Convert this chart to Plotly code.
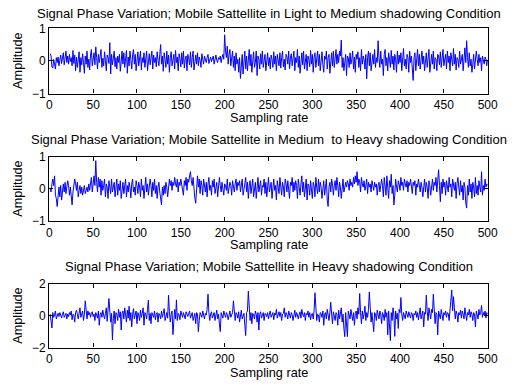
import plotly.graph_objects as go

titles = [
    "Signal Phase Variation; Mobile Sattellite in Light to Medium shadowing Condition",
    "Signal Phase Variation; Mobile Sattellite in Medium\u00a0 to Heavy shadowing Condition",
    "Signal Phase Variation; Mobile Sattellite in Heavy shadowing Condition",
]
x_label = "Sampling rate"
y_label = "Amplitude"
x_ticks = [0, 50, 100, 150, 200, 250, 300, 350, 400, 450, 500]
y_ticks = [[-1, 0, 1], [-1, 0, 1], [-2, 0, 2]]
y_ranges = [[-1, 1], [-1, 1], [-2, 2]]

light_medium = [
    0.22,0.15,-0.18,-0.22,0.05,-0.1,-0.25,0.1,-0.05,0.12,-0.15,0.02,0.18,-0.08,0.05,0.25,-0.12,0.08,0.3,-0.05,0.15,-0.1,0.2,-0.02,0.1,
    -0.15,0.32,-0.08,0.18,-0.3,0.12,-0.2,0.05,0.28,-0.35,0.1,-0.12,0.22,-0.05,-0.38,0.15,-0.1,0.3,-0.2,0.05,-0.28,0.18,0.35,-0.15,0.08,
    0.25,-0.12,0.43,0.1,-0.25,0.2,-0.05,0.15,0.35,-0.2,0.08,-0.15,0.28,0.02,-0.3,0.18,0.1,-0.08,0.56,-0.4,0.2,-0.12,0.05,0.3,-0.18,
    0.1,-0.25,0.15,-0.05,0.2,-0.32,0.08,0.3,-0.1,0.25,-0.2,0.05,0.32,-0.38,0.12,-0.15,0.3,0.05,-0.25,0.18,0.35,-0.1,0.2,-0.3,0.15,
    0.28,-0.15,0.05,0.3,-0.28,0.1,-0.05,0.25,-0.2,0.15,0.3,-0.3,0.08,0.22,-0.12,0.05,0.3,-0.25,0.18,-0.05,0.1,-0.18,0.28,0.02,-0.15,
    0.2,0.5,-0.1,0.15,-0.32,0.25,0.05,-0.2,0.3,-0.1,0.18,-0.35,0.1,0.28,-0.15,0.05,0.2,-0.25,0.32,-0.05,0.12,-0.3,0.22,0.08,-0.18,
    0.25,-0.1,0.3,-0.22,0.05,0.15,-0.3,0.2,0.08,-0.12,0.28,-0.2,0.1,0.3,-0.28,0.05,0.18,-0.1,0.25,-0.15,0.12,0.02,-0.2,0.22,0.05,
    -0.1,0.15,0.05,-0.05,0.1,0.2,-0.08,0.05,0.12,-0.02,0.08,0.15,-0.1,0.05,0.18,0.02,-0.05,0.1,0.05,0.15,-0.05,0.1,0.2,0.05,0.8,
    0.3,0.1,0.45,-0.1,0.2,0.35,-0.15,0.1,0.3,-0.2,0.15,-0.3,0.25,-0.1,0.05,-0.35,0.1,-0.54,-0.2,0.2,-0.4,0.1,0.3,-0.25,0.15,
    -0.3,0.05,0.35,-0.15,0.2,-0.35,0.1,0.28,-0.2,-0.05,0.3,-0.45,0.15,0.05,-0.25,0.22,-0.1,0.3,-0.2,0.1,0.2,-0.3,0.05,0.25,-0.15,
    0.1,-0.25,0.18,0.05,-0.2,0.28,-0.1,0.15,-0.3,0.2,0.05,-0.15,0.25,-0.22,0.1,0.3,-0.18,0.05,-0.28,0.2,0.12,-0.1,0.3,-0.25,0.08,
    0.22,-0.15,0.05,0.3,-0.3,0.1,-0.05,0.35,-0.2,0.15,-0.38,0.05,0.25,-0.12,0.3,-0.25,0.1,0.2,-0.3,0.15,0.05,-0.18,0.32,-0.1,0.2,
    -0.35,0.1,0.25,-0.2,0.05,0.3,-0.15,0.2,-0.3,0.12,0.28,-0.1,-0.35,0.15,0.05,0.3,-0.25,0.1,0.2,-0.38,0.05,0.25,-0.15,0.3,-0.2,
    0.1,0.35,-0.1,0.2,-0.05,0.3,0.15,0.64,-0.2,0.1,-0.3,0.05,0.2,-0.45,0.15,0.1,-0.2,0.25,-0.1,0.05,0.3,-0.25,0.12,-0.35,0.2,
    0.05,0.28,-0.2,0.1,-0.3,0.35,-0.1,0.15,0.05,-0.25,0.2,-0.55,0.1,0.3,-0.15,0.25,-0.3,0.05,0.2,-0.1,0.35,-0.2,0.1,-0.05,0.62,
    0.1,-0.2,0.3,-0.1,0.05,-0.45,0.2,0.35,-0.15,0.1,-0.3,0.25,0.05,-0.2,0.32,-0.1,0.15,-0.28,0.2,0.05,-0.35,0.3,-0.1,0.18,-0.05,
    0.25,-0.3,0.1,0.38,-0.15,0.05,-0.25,0.2,0.1,-0.35,0.3,-0.05,0.15,-0.2,-0.6,0.1,0.25,-0.3,0.05,0.35,-0.15,0.2,-0.25,0.1,0.3,
    -0.1,0.15,-0.3,0.05,0.25,-0.2,0.1,0.35,-0.35,0.05,0.2,-0.1,0.3,-0.25,0.1,0.05,-0.3,0.2,0.15,-0.12,0.28,-0.2,0.05,0.35,-0.15,
    0.1,0.2,-0.25,0.3,-0.05,0.15,-0.3,0.25,0.05,-0.15,0.38,-0.1,0.2,-0.28,0.1,0.05,-0.2,0.3,-0.1,0.15,0.2,-0.3,0.1,0.4,-0.05,
    0.62,0.1,-0.2,0.25,-0.15,0.05,-0.35,-0.1,0.2,-0.25,0.1,0.3,0.05,-0.15,0.2,-0.05,0.1,-0.3,0.15,0.05,-0.1,0.12,0.05,-0.15,0.02,
]

medium_heavy = [
    0.0,-0.1,0.15,0.3,0.1,0.4,-0.2,-0.3,-0.55,-0.1,0.05,-0.25,0.1,-0.35,0.05,0.15,-0.1,0.2,-0.15,0.05,0.25,0.1,-0.2,0.05,-0.3,
    -0.5,-0.1,0.1,0.3,0.15,-0.05,0.2,-0.25,-0.05,0.1,-0.15,0.05,-0.2,-0.05,0.1,-0.15,-0.05,0.05,-0.1,0.15,-0.05,0.2,0.35,-0.1,0.25,
    0.4,0.1,0.87,0.2,-0.1,0.35,0.05,0.3,-0.2,0.25,-0.05,0.1,0.3,-0.25,0.15,0.05,-0.3,0.25,0.1,-0.15,0.3,-0.1,0.05,0.2,-0.25,
    0.1,0.3,-0.2,0.15,-0.05,0.25,-0.3,0.1,0.2,-0.15,0.05,0.3,-0.25,0.1,-0.1,0.2,0.05,-0.28,0.15,0.3,-0.1,0.05,-0.2,0.25,0.1,
    -0.15,0.2,0.05,-0.25,0.3,-0.05,0.1,-0.3,0.2,0.35,-0.1,0.15,-0.2,0.05,0.3,0.1,-0.25,0.2,-0.05,0.3,-0.15,0.1,-0.3,0.05,0.2,
    -0.1,-0.3,-0.5,0.05,-0.2,0.1,-0.15,0.2,0.05,-0.25,0.15,0.3,0.1,0.25,-0.05,0.2,0.1,0.35,0.15,0.05,0.3,-0.1,0.2,0.1,0.3,
    0.15,0.05,-0.2,0.25,0.1,0.35,-0.05,0.3,0.2,0.4,0.53,0.25,0.1,0.35,-0.1,-0.3,-0.45,0.2,0.4,0.05,0.3,-0.15,0.25,0.1,-0.2,
    0.3,0.05,-0.1,0.2,-0.25,0.15,0.35,-0.05,0.1,-0.2,0.25,0.05,0.3,-0.15,0.1,0.2,-0.25,0.05,0.35,0.1,-0.1,0.2,0.05,-0.2,0.15,
    0.1,-0.05,0.3,-0.15,0.05,0.2,0.1,-0.2,0.25,0.05,-0.1,0.15,0.3,-0.05,0.2,0.1,0.25,-0.1,0.05,0.3,-0.2,0.1,0.15,0.35,-0.1,
    0.2,-0.3,0.1,0.25,-0.15,0.05,0.3,-0.25,0.1,0.2,-0.3,0.05,0.35,-0.1,0.15,0.25,-0.2,0.1,0.05,0.3,-0.15,0.2,-0.25,0.1,0.35,
    -0.1,0.05,0.2,-0.3,0.15,0.3,-0.05,0.1,-0.35,0.25,0.05,-0.15,0.35,0.1,-0.2,0.2,0.05,-0.25,0.3,0.15,-0.1,0.25,0.05,-0.3,0.2,
    0.1,0.35,-0.1,0.2,-0.05,0.25,0.1,-0.3,0.3,0.05,-0.2,0.15,0.4,-0.1,0.2,-0.25,0.05,0.3,-0.35,0.15,0.1,-0.2,0.25,0.05,-0.3,
    0.2,0.1,-0.25,0.35,0.05,-0.15,0.3,-0.1,0.2,0.05,-0.3,0.15,0.25,-0.2,0.1,0.3,-0.35,-0.55,0.05,0.2,-0.1,0.3,0.15,-0.2,0.1,
    0.25,-0.05,0.35,0.1,-0.25,0.2,0.05,-0.3,0.15,0.3,-0.1,0.1,0.2,0.05,0.25,0.15,-0.05,0.3,0.1,0.2,0.05,0.35,0.15,0.4,0.2,
    0.53,0.1,0.3,0.2,-0.1,0.35,0.15,0.05,0.25,-0.05,0.1,0.3,-0.15,0.2,0.05,0.15,-0.1,0.25,0.1,-0.05,0.2,0.05,0.15,-0.2,0.1,
    0.2,-0.1,0.05,0.3,0.1,-0.25,0.35,0.15,-0.2,0.4,0.1,-0.3,0.25,0.05,0.45,-0.15,0.1,-0.5,-0.2,0.3,0.05,-0.1,0.25,0.15,-0.05,
    0.35,0.1,0.2,-0.05,0.3,0.15,0.05,0.25,-0.1,0.2,0.1,0.3,0.05,-0.15,0.2,0.1,0.25,-0.2,0.15,0.05,0.3,0.1,-0.1,0.2,0.05,
    -0.25,0.15,0.3,-0.1,0.2,0.05,-0.3,0.25,0.1,-0.2,0.15,0.3,-0.05,0.2,0.1,0.35,-0.1,0.25,0.59,0.1,-0.4,0.2,-0.15,0.3,0.05,
    0.2,-0.2,0.25,0.1,-0.1,0.35,0.05,0.15,-0.25,0.3,0.1,-0.05,0.2,-0.3,0.15,0.35,0.05,-0.2,0.25,-0.1,0.1,-0.35,0.2,0.05,-0.45,
    -0.6,0.1,-0.2,0.3,-0.1,0.15,-0.3,0.2,0.05,-0.25,0.35,-0.15,0.1,-0.2,0.25,0.05,-0.1,0.53,-0.2,0.1,-0.05,0.3,0.05,0.15,0.1,
]

heavy = [
    0.1,-0.3,-0.77,0.2,-0.1,0.05,0.3,-0.2,0.1,0.15,-0.05,0.2,0.05,-0.15,0.1,0.25,-0.1,0.05,0.15,-0.2,0.1,-0.05,0.2,0.05,0.3,
    -0.25,0.1,0.05,-0.4,0.2,0.35,0.1,-0.2,0.15,0.5,-0.1,0.2,0.3,-0.3,0.1,0.94,0.15,-0.2,0.3,0.05,0.2,-0.1,0.15,0.25,-0.05,
    0.1,-0.3,0.2,0.05,-0.15,0.3,-0.6,0.1,0.2,-0.1,0.35,0.05,-0.2,0.15,0.5,-0.35,0.2,1.09,0.3,-0.4,0.15,-1.53,-0.2,0.3,-0.5,
    0.2,0.1,-0.3,0.4,-0.1,0.25,-0.9,0.15,0.3,-0.2,0.5,0.05,-0.4,0.35,-0.15,0.6,-0.3,0.2,-0.7,0.1,0.45,-0.2,0.05,0.3,-0.5,
    0.2,0.05,-0.3,0.35,-0.1,0.15,0.5,-0.6,0.2,0.1,-0.2,0.4,0.98,-0.3,0.15,-0.5,0.2,0.05,-0.1,0.3,-0.25,0.1,0.2,-0.4,0.15,
    0.05,-0.2,0.3,-0.1,0.15,0.45,-0.3,0.1,0.2,-0.15,1.3,0.25,-0.4,0.1,0.3,-1.19,0.2,0.4,-0.2,1.0,-0.3,0.15,0.05,-0.25,0.3,
    0.1,-0.1,0.2,0.05,-0.2,0.25,0.1,-0.05,0.15,0.3,-0.15,0.1,0.2,-0.3,0.05,0.15,-0.5,0.2,0.1,-1.0,-0.3,0.2,0.05,-0.1,0.3,
    0.1,-0.2,0.15,0.05,0.4,1.36,0.2,-0.3,0.1,0.25,-0.15,0.05,0.2,-0.3,0.15,0.35,-0.2,0.1,-0.5,-1.0,0.2,0.05,-0.15,0.3,0.1,
    -0.1,0.2,0.05,-0.25,0.15,0.3,-0.1,0.1,0.2,0.94,0.05,-0.3,0.2,0.1,-0.15,0.25,-0.4,0.1,0.35,-0.2,0.05,0.15,-0.6,-1.25,0.2,
    0.3,1.55,0.1,-0.3,0.2,-0.5,0.15,0.05,-0.2,0.3,0.1,-0.4,0.2,-0.9,0.1,0.25,-0.15,0.05,0.2,-0.3,0.15,0.1,-0.05,0.2,-0.2,
    0.1,0.3,-0.1,0.05,0.2,-0.25,0.15,0.05,0.4,-0.15,0.1,0.25,-0.05,0.2,-0.3,0.1,0.15,0.5,-0.1,0.2,0.05,-0.2,0.3,0.1,-0.15,
    0.2,0.05,-0.3,0.15,0.35,-0.1,0.2,0.05,-0.2,0.1,0.25,-0.15,0.4,0.1,-0.05,0.2,-0.3,0.15,0.05,0.3,-0.1,0.2,-0.25,0.1,0.15,
    -0.2,0.3,1.45,0.2,-0.3,0.1,0.05,-0.4,0.2,0.15,-0.1,0.3,-0.6,0.1,0.2,-0.2,0.4,0.05,-0.3,0.2,0.85,0.1,-0.5,0.25,0.05,
    -0.3,0.2,0.1,-0.6,0.35,-0.2,0.15,0.5,-0.4,0.1,-0.8,-1.32,0.2,-0.5,-1.32,0.3,0.1,-0.2,0.4,0.05,-0.3,0.2,-0.6,0.15,0.3,
    -0.2,0.5,0.1,1.4,0.2,-0.5,0.3,-0.2,0.1,0.6,-0.3,0.2,-0.1,0.4,1.5,0.3,-0.4,0.2,-0.6,-1.0,0.2,0.1,-0.3,0.35,0.05,
    -0.2,0.3,0.1,-0.5,0.2,0.05,-0.3,0.4,-0.1,0.2,-1.2,0.3,-0.4,-1.57,0.2,-0.3,0.5,0.1,-1.3,0.3,-0.2,0.15,-0.8,0.4,0.2,
    1.15,0.1,-0.3,0.2,0.05,-0.2,0.3,0.1,-0.1,0.25,0.05,-0.15,0.2,0.1,-0.3,0.15,0.05,0.3,-0.1,0.2,-0.25,0.1,0.5,-0.2,0.15,
    0.3,-0.7,0.2,0.1,1.3,0.25,-0.3,0.5,0.1,-0.2,0.4,0.2,1.36,0.3,-0.5,0.2,0.1,-1.2,0.3,0.05,-0.2,0.4,0.1,-0.3,0.2,
    0.05,0.3,-0.1,0.2,0.15,-0.3,0.4,0.6,1.62,0.3,1.2,0.5,-0.2,0.3,0.1,-0.4,0.2,0.05,0.35,-0.15,0.3,0.1,-0.2,0.5,0.1,
    -0.3,0.2,0.05,0.4,-0.1,0.25,0.1,-0.3,0.2,0.05,-0.7,0.3,0.1,-0.2,0.4,0.05,0.2,0.65,-0.1,0.2,0.05,0.3,-0.15,0.2,0.1,
]

series = [light_medium, medium_heavy, heavy]

W, H = 512, 387
x0, x1 = 49.3 / W, 487.7 / W
panel_px = [(28.3, 93.5), (156.5, 221.0), (284.0, 347.5)]
title_px = [13.5, 139.5, 266.5]
xlabel_px = [118.0, 245.0, 373.0]

FONT = "Arial, Liberation Sans, sans-serif"
fig = go.Figure()
annotations = []
for i, ys in enumerate(series):
    n = i + 1
    xa = "x" if n == 1 else f"x{n}"
    ya = "y" if n == 1 else f"y{n}"
    fig.add_trace(go.Scatter(
        x=list(range(1, len(ys) + 1)), y=ys, mode="lines",
        line=dict(color="#0000FF", width=1), xaxis=xa, yaxis=ya,
        showlegend=False, hoverinfo="skip"))
    top, bot = panel_px[i]
    axcommon = dict(showline=True, linecolor="black", linewidth=1.2, mirror="ticks",
                    ticks="inside", ticklen=4, tickcolor="black", showgrid=False,
                    zeroline=False, automargin=False,
                    tickfont=dict(family=FONT, size=12, color="black"))
    fig.layout[f"xaxis{'' if n == 1 else n}"] = dict(
        domain=[x0, x1], range=[0, 500], tickvals=x_ticks, anchor=ya, **axcommon)
    fig.layout[f"yaxis{'' if n == 1 else n}"] = dict(
        domain=[1 - bot / H, 1 - top / H], range=y_ranges[i], tickvals=y_ticks[i],
        anchor=xa, **axcommon)
    annotations.append(dict(text=titles[i], x=(x0 + x1) / 2, y=1 - title_px[i] / H,
                            xref="paper", yref="paper", showarrow=False,
                            xanchor="center", yanchor="middle",
                            font=dict(family=FONT, size=13, color="black")))
    annotations.append(dict(text=x_label, x=(x0 + x1) / 2, y=1 - xlabel_px[i] / H,
                            xref="paper", yref="paper", showarrow=False,
                            xanchor="center", yanchor="middle",
                            font=dict(family=FONT, size=12.7, color="black")))
    annotations.append(dict(text=y_label, x=18 / W, y=1 - (top + bot) / 2 / H,
                            xref="paper", yref="paper", showarrow=False, textangle=-90,
                            xanchor="center", yanchor="middle",
                            font=dict(family=FONT, size=12.7, color="black")))

fig.update_layout(width=W, height=H, margin=dict(l=0, r=0, t=0, b=0),
                  paper_bgcolor="white", plot_bgcolor="white",
                  annotations=annotations, font=dict(family=FONT))
fig.write_html("out.html", config={"displayModeBar": False},
               post_script="document.body.style.margin='0';document.body.style.overflow='hidden';")
